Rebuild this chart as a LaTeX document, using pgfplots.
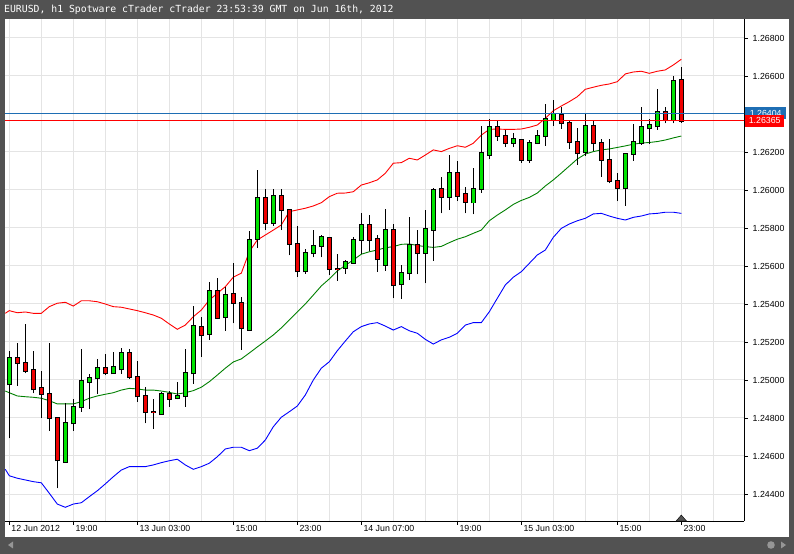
\documentclass[border=0pt]{standalone}
\usepackage{pgfplots}
\pgfplotsset{compat=1.18}
\usepackage{pgfplotstable}
\usepackage{fontspec}
\setmainfont{Liberation Sans}
\newfontfamily\monofont{DejaVu Sans Mono}

\definecolor{framec}{RGB}{82,82,82}
\definecolor{gridc}{RGB}{228,228,228}
\definecolor{bullc}{RGB}{0,226,0}
\definecolor{bearc}{RGB}{238,0,0}
\definecolor{bbup}{RGB}{255,0,0}
\definecolor{bbmid}{RGB}{0,128,0}
\definecolor{bblow}{RGB}{0,0,255}
\definecolor{askc}{RGB}{30,110,180}
\definecolor{scrollc}{RGB}{150,150,150}

% EURUSD h1 candles, k = bar index (12 Jun 11:00 = 0)
\pgfplotstableread{
k O H L C
0 1.24977 1.25153 1.24693 1.25114
7 1.24570 1.24877 1.24565 1.24772
8 1.24772 1.24898 1.24733 1.24856
9 1.24856 1.25163 1.24833 1.24993
10 1.24988 1.25032 1.24846 1.25009
11 1.25009 1.25109 1.24926 1.25062
13 1.25035 1.25146 1.25032 1.25067
14 1.25056 1.25167 1.25032 1.25141
19 1.24819 1.24938 1.24816 1.24925
21 1.24904 1.24989 1.24898 1.24914
22 1.24914 1.25163 1.24859 1.25035
23 1.25035 1.25391 1.24979 1.25284
25 1.25241 1.25516 1.25211 1.25468
27 1.25330 1.25491 1.25259 1.25447
30 1.25262 1.25784 1.25258 1.25737
31 1.25741 1.26105 1.25696 1.25956
33 1.25825 1.26004 1.25811 1.25967
37 1.25572 1.25688 1.25559 1.25667
38 1.25667 1.25789 1.25646 1.25707
39 1.25707 1.25763 1.25646 1.25751
42 1.25591 1.25632 1.25558 1.25619
43 1.25616 1.25751 1.25611 1.25737
44 1.25737 1.25881 1.25663 1.25814
47 1.25605 1.25900 1.25574 1.25788
49 1.25504 1.25605 1.25425 1.25562
50 1.25562 1.25859 1.25526 1.25709
52 1.25667 1.25895 1.25509 1.25793
53 1.25788 1.26009 1.25628 1.26000
55 1.25962 1.26183 1.25895 1.26088
58 1.25934 1.26117 1.25872 1.26004
59 1.26004 1.26337 1.25986 1.26193
60 1.26186 1.26372 1.26162 1.26330
63 1.26246 1.26298 1.26224 1.26267
65 1.26158 1.26262 1.26142 1.26246
66 1.26246 1.26316 1.26241 1.26282
67 1.26282 1.26453 1.26232 1.26372
68 1.26368 1.26474 1.26338 1.26400
72 1.26198 1.26404 1.26179 1.26335
77 1.26009 1.26188 1.25917 1.26188
78 1.26189 1.26347 1.26153 1.26251
79 1.26246 1.26438 1.26237 1.26330
80 1.26324 1.26372 1.26241 1.26341
81 1.26335 1.26531 1.26316 1.26409
83 1.26371 1.26600 1.26351 1.26573
}\bull

\pgfplotstableread{
k O H L C
1 1.25114 1.25193 1.24970 1.25088
2 1.25089 1.25295 1.25035 1.25049
3 1.25051 1.25153 1.24930 1.24951
4 1.24956 1.25047 1.24802 1.24925
5 1.24926 1.25193 1.24733 1.24798
6 1.24798 1.24800 1.24430 1.24577
12 1.25062 1.25135 1.25026 1.25035
15 1.25141 1.25163 1.25005 1.25014
16 1.25014 1.25098 1.24886 1.24914
17 1.24914 1.24965 1.24772 1.24830
18 1.24833 1.24900 1.24741 1.24830
20 1.24925 1.24944 1.24859 1.24902
24 1.25279 1.25333 1.25123 1.25235
26 1.25468 1.25537 1.25320 1.25328
28 1.25451 1.25614 1.25298 1.25407
29 1.25404 1.25438 1.25158 1.25272
32 1.25956 1.26004 1.25789 1.25825
34 1.25967 1.26004 1.25789 1.25893
35 1.25893 1.25898 1.25656 1.25717
36 1.25717 1.25811 1.25544 1.25572
40 1.25746 1.25751 1.25551 1.25583
41 1.25584 1.25662 1.25523 1.25583
45 1.25814 1.25868 1.25681 1.25738
46 1.25741 1.25762 1.25570 1.25635
48 1.25788 1.25821 1.25429 1.25498
51 1.25709 1.25789 1.25556 1.25667
54 1.26004 1.26070 1.25877 1.25965
56 1.26088 1.26153 1.25944 1.25970
57 1.25977 1.26016 1.25877 1.25938
61 1.26330 1.26368 1.26259 1.26286
62 1.26283 1.26316 1.26225 1.26246
64 1.26263 1.26266 1.26144 1.26158
69 1.26393 1.26437 1.26323 1.26351
70 1.26351 1.26362 1.26216 1.26251
71 1.26251 1.26325 1.26132 1.26193
73 1.26335 1.26363 1.26207 1.26246
74 1.26246 1.26267 1.26070 1.26158
75 1.26158 1.26267 1.26035 1.26045
76 1.26045 1.26091 1.25942 1.26009
82 1.26409 1.26438 1.26351 1.26368
84 1.26577 1.26646 1.26355 1.26365
}\bear

% Bollinger bands
\pgfplotstableread{
k up mid low
-0.5 1.25351 1.24942 1.24530
0 1.25365 1.24933 1.24496
1 1.25354 1.24916 1.24483
2 1.25358 1.24912 1.24474
3 1.25351 1.24909 1.24465
4 1.25351 1.24904 1.24459
5 1.25386 1.24891 1.24404
6 1.25404 1.24874 1.24347
7 1.25409 1.24874 1.24330
8 1.25389 1.24874 1.24347
9 1.25417 1.24886 1.24354
10 1.25417 1.24904 1.24386
11 1.25412 1.24916 1.24417
12 1.25400 1.24925 1.24453
13 1.25386 1.24933 1.24491
14 1.25383 1.24947 1.24526
15 1.25374 1.24956 1.24544
16 1.25365 1.24953 1.24544
17 1.25354 1.24947 1.24544
18 1.25342 1.24947 1.24553
19 1.25325 1.24942 1.24565
20 1.25295 1.24935 1.24575
21 1.25267 1.24926 1.24583
22 1.25289 1.24933 1.24553
23 1.25333 1.24944 1.24530
24 1.25368 1.24962 1.24544
25 1.25421 1.24991 1.24562
26 1.25456 1.25026 1.24596
27 1.25491 1.25062 1.24637
28 1.25541 1.25095 1.24646
29 1.25562 1.25111 1.24646
30 1.25675 1.25142 1.24628
31 1.25737 1.25174 1.24641
32 1.25763 1.25205 1.24684
33 1.25789 1.25237 1.24754
34 1.25816 1.25274 1.24804
35 1.25886 1.25316 1.24833
36 1.25895 1.25358 1.24863
37 1.25904 1.25400 1.24921
38 1.25916 1.25447 1.25000
39 1.25933 1.25495 1.25062
40 1.25965 1.25532 1.25096
41 1.25983 1.25574 1.25154
42 1.25984 1.25603 1.25205
43 1.25991 1.25632 1.25254
44 1.26026 1.25662 1.25281
45 1.26038 1.25675 1.25295
46 1.26053 1.25684 1.25302
47 1.26088 1.25696 1.25284
48 1.26141 1.25702 1.25263
49 1.26144 1.25714 1.25281
50 1.26167 1.25716 1.25259
51 1.26158 1.25708 1.25246
52 1.26184 1.25702 1.25214
53 1.26211 1.25698 1.25189
54 1.26202 1.25703 1.25211
55 1.26219 1.25723 1.25225
56 1.26233 1.25741 1.25246
57 1.26225 1.25754 1.25289
58 1.26246 1.25772 1.25302
59 1.26289 1.25789 1.25302
60 1.26319 1.25838 1.25359
61 1.26321 1.25868 1.25430
62 1.26319 1.25895 1.25500
63 1.26319 1.25924 1.25541
64 1.26321 1.25945 1.25570
65 1.26330 1.25961 1.25614
66 1.26342 1.25984 1.25658
67 1.26377 1.26021 1.25684
68 1.26417 1.26053 1.25751
69 1.26442 1.26089 1.25798
70 1.26465 1.26126 1.25821
71 1.26491 1.26163 1.25838
72 1.26530 1.26189 1.25851
73 1.26541 1.26202 1.25874
74 1.26551 1.26211 1.25877
75 1.26558 1.26216 1.25863
76 1.26570 1.26224 1.25851
77 1.26611 1.26232 1.25842
78 1.26621 1.26241 1.25856
79 1.26625 1.26247 1.25863
80 1.26614 1.26250 1.25874
81 1.26625 1.26255 1.25877
82 1.26632 1.26263 1.25883
83 1.26658 1.26274 1.25883
84 1.26688 1.26284 1.25877
}\bands

\begin{document}
\begin{tikzpicture}
\useasboundingbox (0bp,0bp) rectangle (794bp,554bp);
\fill[framec] (0bp,0bp) rectangle (794bp,554bp);
\fill[white] (5bp,17bp) rectangle (789bp,535bp);

\begin{axis}[
  at={(5bp,33bp)}, anchor=south west,
  scale only axis, width=739bp, height=502bp,
  xmin=-0.5375, xmax=91.8375,
  ymin=1.242579, ymax=1.269,
  axis x line=bottom, axis y line=right,
  axis line style={-, black, line width=1bp},
  tick align=outside,
  major tick length=3.5bp, minor tick length=0pt,
  tick style={black, line width=0.8bp},
  xtick={0,8,16,28,36,44,56,64,76,84},
  xticklabels={12 Jun 2012,19:00,13 Jun 03:00,15:00,23:00,14 Jun 07:00,19:00,15 Jun 03:00,15:00,23:00},
  minor xtick={0,4,...,88},
  xminorgrids, ymajorgrids,
  grid style={gridc, line width=1bp},
  minor grid style={gridc, line width=1bp},
  ytick={1.244,1.246,1.248,1.25,1.252,1.254,1.256,1.258,1.26,1.262,1.264,1.266,1.268},
  scaled y ticks=false,
  /pgf/number format/assume math mode=true,
  tick label style={font=\fontsize{8.8bp}{10bp}\selectfont, text=black},
  xticklabel style={anchor=north west, inner sep=1bp, xshift=1bp},
  yticklabel style={anchor=west, inner sep=1bp, xshift=4bp,
    /pgf/number format/fixed, /pgf/number format/fixed zerofill,
    /pgf/number format/precision=5},
]
% bands
\addplot[bbup, line width=0.9bp] table[x=k, y=up] \bands;
\addplot[bbmid, line width=0.9bp] table[x=k, y=mid] \bands;
\addplot[bblow, line width=0.9bp] table[x=k, y=low] \bands;

% wicks
\addplot[draw=none, error bars/.cd, y dir=plus, y explicit, error mark=none,
  error bar style={draw=black, line width=1bp}]
  table[x=k, y=L, y error expr=\thisrow{H}-\thisrow{L}] \bull;
\addplot[draw=none, error bars/.cd, y dir=plus, y explicit, error mark=none,
  error bar style={draw=black, line width=1bp}]
  table[x=k, y=L, y error expr=\thisrow{H}-\thisrow{L}] \bear;

% bodies: black outline then fill
\addplot[draw=none, error bars/.cd, y dir=plus, y explicit, error mark=none,
  error bar style={draw=black, line width=5.6bp}]
  table[x=k, y expr=\thisrow{O}-0.00005, y error expr=\thisrow{C}-\thisrow{O}+0.0001] \bull;
\addplot[draw=none, error bars/.cd, y dir=plus, y explicit, error mark=none,
  error bar style={draw=bullc, line width=3.6bp}]
  table[x=k, y=O, y error expr=\thisrow{C}-\thisrow{O}] \bull;
\addplot[draw=none, error bars/.cd, y dir=plus, y explicit, error mark=none,
  error bar style={draw=black, line width=5.6bp}]
  table[x=k, y expr=\thisrow{C}-0.00005, y error expr=\thisrow{O}-\thisrow{C}+0.0001] \bear;
\addplot[draw=none, error bars/.cd, y dir=plus, y explicit, error mark=none,
  error bar style={draw=bearc, line width=3.6bp}]
  table[x=k, y=C, y error expr=\thisrow{O}-\thisrow{C}] \bear;

% ask / bid lines
\addplot[askc, line width=1bp] coordinates {(-1,1.26404) (93,1.26404)};
\addplot[bbup, line width=1bp] coordinates {(-1,1.26365) (93,1.26365)};

% current bar marker
\addplot[only marks, mark=triangle*, mark size=4bp,
  mark options={fill=framec, draw=none, xscale=1.5, yshift=2bp}]
  coordinates {(84,1.242579)};
\end{axis}

% header bar drawn on top
\fill[framec] (0bp,535bp) rectangle (794bp,554bp);
\node[anchor=west,inner sep=0,text=white,font=\monofont\fontsize{9.8bp}{11bp}\selectfont]
  at (4bp,544.5bp) {EURUSD, h1 Spotware cTrader cTrader 23:53:39 GMT on Jun 16th, 2012};

% price boxes on the right scale
\node[fill=askc, text=white, inner sep=0, minimum width=41bp, minimum height=12bp,
  anchor=west, font=\fontsize{8.8bp}{10bp}\selectfont] at (745bp,440.8bp) {1.26404};
\node[fill=bbup, text=white, inner sep=0, minimum width=39bp, minimum height=12bp,
  anchor=west, font=\fontsize{8.8bp}{10bp}\selectfont] at (745bp,433.4bp) {1.26365};

% scroll bar
\fill[framec] (0bp,0bp) rectangle (794bp,17bp);
\fill[scrollc] (8bp,9bp) -- (13bp,12.5bp) -- (13bp,5.5bp) -- cycle;
\fill[scrollc] (771bp,9bp) circle (3.8bp);
\fill[scrollc] (781bp,5.5bp) -- (786bp,9bp) -- (781bp,12.5bp) -- cycle;
\end{tikzpicture}
\end{document}
